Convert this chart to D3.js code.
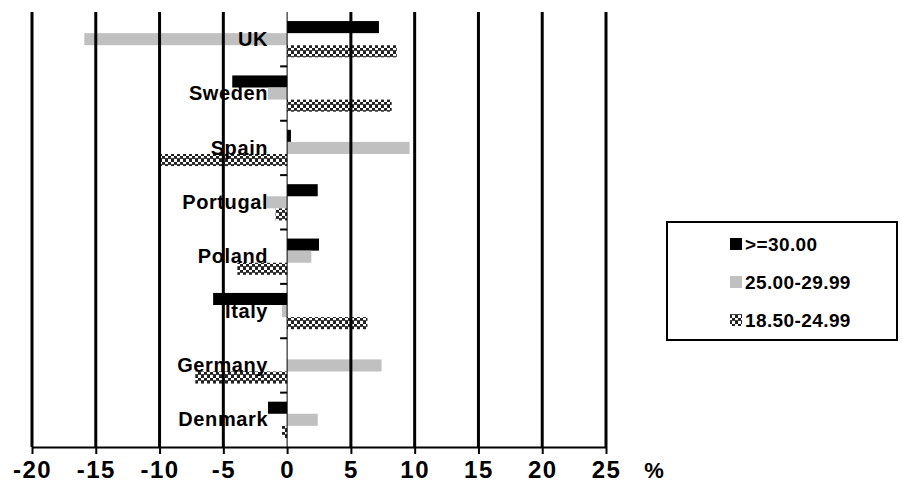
<!DOCTYPE html>
<html>
<head>
<meta charset="utf-8">
<script src="https://cdnjs.cloudflare.com/ajax/libs/d3/7.8.5/d3.min.js"></script>
<style>
  body { margin: 0; background: #fff; }
  text { font-family: "Liberation Sans", Arial, sans-serif; font-weight: bold; fill: #000; }
</style>
</head>
<body>
<div id="chart-area"></div>
<script>
// data (change in %)
var categories = ["UK", "Sweden", "Spain", "Portugal", "Poland", "Italy", "Germany", "Denmark"];
var seriesNames = [">=30.00", "25.00-29.99", "18.50-24.99"];
var obese      = [7.2, -4.3, 0.3, 2.4, 2.5, -5.8, 0, -1.5];
var overweight = [-15.9, -1.5, 9.6, -1.6, 1.9, -0.4, 7.4, 2.4];
var normal     = [8.6, 8.2, -9.9, -0.9, -3.9, 6.3, -7.2, -0.4];
var xTicks = [-20, -15, -10, -5, 0, 5, 10, 15, 20, 25];

var seriesValues = [obese, overweight, normal];

var svg = d3.select("#chart-area")
  .append("svg")
    .attr("width", 902)
    .attr("height", 493);

// checkered fill for the third series
var defs = svg.append("defs");
var pat = defs.append("pattern")
    .attr("id", "checks")
    .attr("width", 6)
    .attr("height", 6)
    .attr("patternUnits", "userSpaceOnUse");
pat.append("rect").attr("width", 6).attr("height", 6).attr("fill", "#fff");
pat.append("rect").attr("x", 0).attr("y", 0).attr("width", 3).attr("height", 3).attr("fill", "#222");
pat.append("rect").attr("x", 3).attr("y", 3).attr("width", 3).attr("height", 3).attr("fill", "#222");
pat.append("rect").attr("x", 0).attr("y", 2).attr("width", 6).attr("height", 1).attr("fill", "#444");

var fills = ["#000", "#c0c0c0", "url(#checks)"];

var x = d3.scaleLinear()
  .domain([-20, 25])
  .range([32, 606]);

var y0 = d3.scaleBand()
  .domain(categories)
  .range([12, 447]);

var y1 = d3.scaleBand()
  .domain(seriesNames)
  .range([0, y0.bandwidth()])
  .paddingOuter(0.75);

// bars
var rows = [];
categories.forEach(function(c, i) {
  seriesNames.forEach(function(s, j) {
    rows.push({ cat: c, series: s, idx: j, value: seriesValues[j][i] });
  });
});

svg.append("g").selectAll("rect")
  .data(rows)
  .enter()
  .append("rect")
    .attr("x", function(d) { return x(Math.min(0, d.value)); })
    .attr("y", function(d) { return y0(d.cat) + y1(d.series); })
    .attr("width", function(d) { return Math.abs(x(d.value) - x(0)); })
    .attr("height", y1.bandwidth())
    .attr("fill", function(d) { return fills[d.idx]; });

// vertical grid lines
svg.append("g").selectAll("line")
  .data(xTicks.filter(function(t) { return t !== 0; }))
  .enter()
  .append("line")
    .attr("x1", function(d) { return x(d); })
    .attr("x2", function(d) { return x(d); })
    .attr("y1", 12)
    .attr("y2", 447)
    .attr("stroke", "#000")
    .attr("stroke-width", 3);

// x axis (plain hyphen for negatives, like the original)
var xAxis = d3.axisBottom(x)
  .tickValues(xTicks)
  .tickFormat(function(d) { return String(d); })
  .tickSize(7)
  .tickSizeOuter(0)
  .tickPadding(7);

var gx = svg.append("g")
  .attr("transform", "translate(0,447)")
  .call(xAxis);
gx.select(".domain").attr("stroke-width", 2);
gx.selectAll(".tick line").attr("stroke-width", 2);
gx.selectAll(".tick text")
  .style("font-size", "24px")
  .attr("letter-spacing", "1.5")
  .attr("font-family", "Liberation Sans, Arial, sans-serif")
  .attr("font-weight", "bold");

svg.append("text")
  .attr("x", 654)
  .attr("y", 478)
  .attr("text-anchor", "middle")
  .style("font-size", "22px")
  .text("%");

// zero axis with category ticks
svg.append("line")
  .attr("x1", x(0)).attr("x2", x(0))
  .attr("y1", 12).attr("y2", 447)
  .attr("stroke", "#000")
  .attr("stroke-width", 1);

svg.append("g").selectAll("line")
  .data(categories.slice(1))
  .enter()
  .append("line")
    .attr("x1", x(0) - 7)
    .attr("x2", x(0))
    .attr("y1", function(d) { return y0(d); })
    .attr("y2", function(d) { return y0(d); })
    .attr("stroke", "#000")
    .attr("stroke-width", 2);

// category labels
svg.append("g").selectAll("text")
  .data(categories)
  .enter()
  .append("text")
    .attr("x", x(0) - 19)
    .attr("y", function(d) { return y0(d) + y0.bandwidth() / 2; })
    .attr("dy", "0.33em")
    .attr("text-anchor", "end")
    .attr("letter-spacing", "0.6")
    .style("font-size", "20px")
    .text(function(d) { return d; });

// legend
var legend = svg.append("g");
legend.append("rect")
  .attr("x", 667)
  .attr("y", 222)
  .attr("width", 230)
  .attr("height", 118)
  .attr("fill", "#fff")
  .attr("stroke", "#000")
  .attr("stroke-width", 2);

var ly = d3.scalePoint()
  .domain(seriesNames)
  .range([244, 320]);

legend.selectAll(".key")
  .data(seriesNames)
  .enter()
  .append("rect")
    .attr("class", "key")
    .attr("x", 730)
    .attr("y", function(d) { return ly(d) - 6; })
    .attr("width", 12)
    .attr("height", 12)
    .attr("fill", function(d, i) { return fills[i]; });

legend.selectAll(".lab")
  .data(seriesNames)
  .enter()
  .append("text")
    .attr("class", "lab")
    .attr("x", 745)
    .attr("y", function(d) { return ly(d); })
    .attr("dy", "0.35em")
    .attr("letter-spacing", "0.4")
    .style("font-size", "19px")
    .text(function(d) { return d; });
</script>
</body>
</html>
